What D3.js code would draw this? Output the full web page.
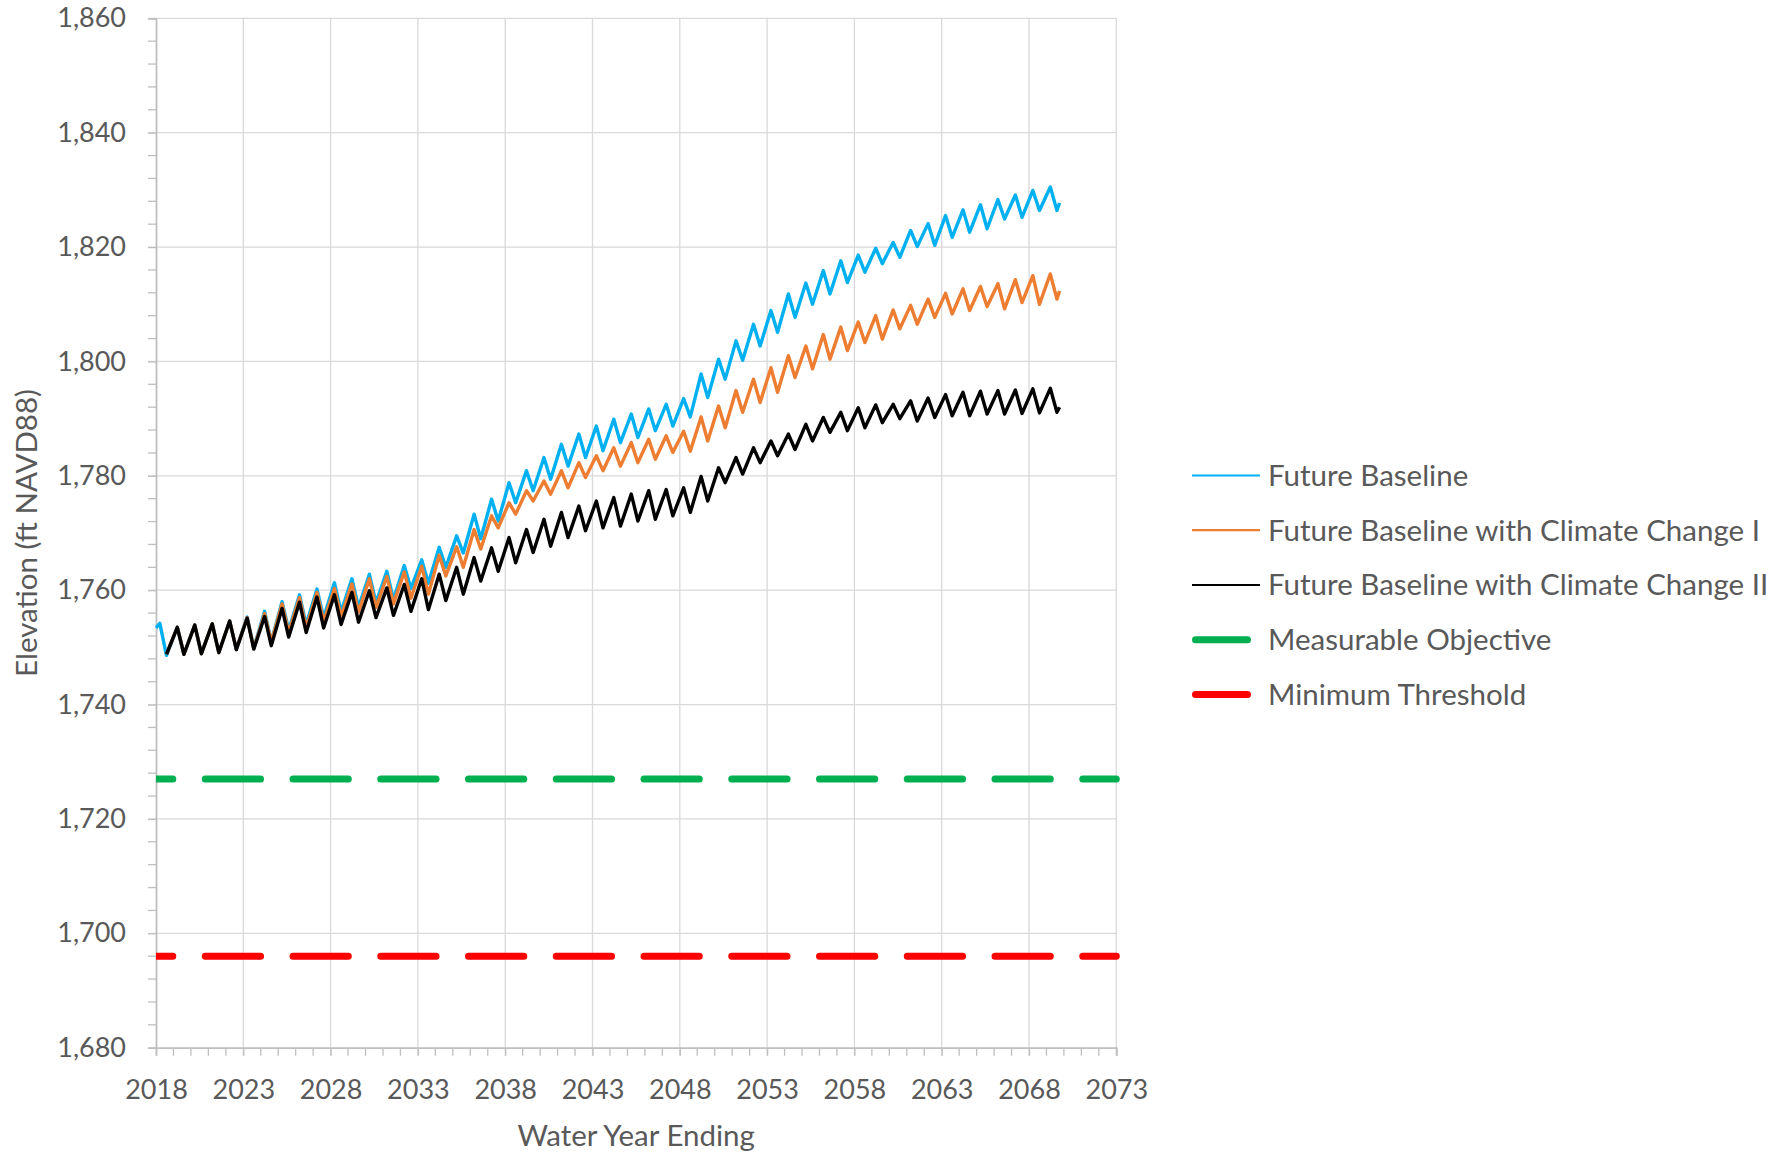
<!DOCTYPE html>
<html><head><meta charset="utf-8">
<script src="https://cdn.jsdelivr.net/npm/d3@7"></script>
<style>
body{margin:0;background:#fff}
text{font-family:Lato,"Open Sans",sans-serif;fill:#595959}
</style>
</head><body>
<svg id="chart" width="1788" height="1153"></svg>
<script>
// ---- data ----
const years = [2018,2019,2020,2021,2022,2023,2024,2025,2026,2027,2028,2029,2030,2031,2032,2033,2034,2035,2036,2037,2038,2039,2040,2041,2042,2043,2044,2045,2046,2047,2048,2049,2050,2051,2052,2053,2054,2055,2056,2057,2058,2059,2060,2061,2062,2063,2064,2065,2066,2067,2068,2069];

// Future Baseline: start value, annual peaks (spring) and annual lows (late summer)
const blueStart = 1753.4;
const bluePeaks = [1754.2,1753.5,1753.9,1754.1,1754.6,1755.3,1756.3,1758.0,1759.2,1760.2,1761.3,1762.0,1762.8,1763.3,1764.3,1765.3,1767.5,1769.5,1773.3,1775.9,1778.8,1780.9,1783.2,1785.5,1787.3,1788.7,1789.9,1790.8,1791.7,1792.5,1793.5,1797.8,1800.4,1803.6,1806.5,1808.9,1811.8,1813.7,1815.9,1817.6,1818.6,1819.8,1820.8,1822.9,1824.1,1825.5,1826.5,1827.4,1828.3,1829.1,1829.9,1830.5];
const blueLows = [1748.6,1748.8,1748.9,1749.1,1749.7,1749.9,1751.0,1753.0,1754.0,1755.2,1756.2,1757.0,1757.8,1758.4,1760.3,1761.2,1764.0,1766.5,1769.0,1772.1,1775.3,1777.4,1779.4,1781.7,1783.2,1784.4,1785.8,1786.7,1787.9,1788.7,1790.3,1793.7,1796.9,1800.2,1802.7,1805.1,1807.7,1810.0,1811.8,1813.8,1815.6,1817.1,1818.2,1820.1,1820.3,1821.7,1822.6,1823.2,1824.9,1825.2,1826.4,1826.4];
const blueEnd = 1827.7;

// Future Baseline with Climate Change I
const orangePeaks = [null,1753.5,1753.9,1754.1,1754.6,1755.2,1755.9,1757.6,1758.7,1759.6,1760.3,1761.1,1762.0,1762.4,1763.2,1764.2,1766.1,1767.6,1770.6,1773.0,1775.3,1777.4,1779.1,1780.9,1782.3,1783.5,1784.9,1785.8,1786.4,1787.0,1787.8,1790.3,1792.2,1794.9,1796.9,1798.9,1801.0,1802.7,1804.7,1806.0,1806.9,1808.0,1809.0,1809.8,1810.9,1811.9,1812.7,1813.1,1813.6,1814.3,1815.0,1815.3];
const orangeLows = [1748.8,1748.8,1748.9,1749.1,1749.7,1749.8,1750.9,1752.6,1753.4,1754.5,1755.4,1756.2,1757.0,1757.6,1758.6,1759.3,1762.5,1764.0,1767.2,1770.9,1773.3,1775.6,1776.8,1777.9,1779.7,1780.9,1781.7,1782.3,1782.9,1784.1,1784.3,1786.1,1788.4,1791.1,1792.8,1794.6,1797.2,1798.7,1800.4,1801.9,1803.3,1803.9,1805.7,1806.5,1807.7,1808.3,1808.9,1809.6,1809.2,1810.3,1810.0,1810.9];
const orangeEnd = 1812.3;

// Future Baseline with Climate Change II
const blackPeaks = [null,1753.5,1753.9,1754.1,1754.6,1755.1,1755.4,1756.8,1757.9,1758.8,1759.2,1759.6,1759.9,1760.4,1761.0,1762.0,1762.8,1764.0,1765.7,1767.4,1769.2,1770.6,1772.4,1773.6,1774.7,1775.6,1776.2,1776.8,1777.4,1777.6,1777.9,1779.9,1781.4,1783.2,1784.9,1786.1,1787.3,1789.0,1790.2,1791.1,1791.9,1792.4,1792.5,1793.1,1793.6,1794.2,1794.6,1794.8,1794.9,1795.0,1795.2,1795.3];
const blackLows = [1748.8,1748.8,1748.9,1749.1,1749.6,1749.7,1750.3,1751.8,1752.6,1753.4,1754.0,1754.4,1755.2,1755.6,1756.3,1756.6,1758.2,1759.3,1761.6,1763.3,1764.8,1766.6,1767.7,1769.2,1770.4,1770.9,1771.2,1772.1,1772.4,1773.0,1773.6,1775.6,1778.8,1780.3,1782.3,1783.5,1784.6,1786.1,1787.6,1787.9,1788.4,1789.3,1790.0,1789.6,1790.2,1790.5,1790.5,1790.8,1790.8,1790.9,1791.0,1791.1];
const blackEnd = 1792.0;

const measurableObjective = 1727;
const minimumThreshold = 1696;

const xTicks = [2018,2023,2028,2033,2038,2043,2048,2053,2058,2063,2068,2073];
const yTicks = [1680,1700,1720,1740,1760,1780,1800,1820,1840,1860];
const legendLabels = ["Future Baseline","Future Baseline with Climate Change I","Future Baseline with Climate Change II","Measurable Objective","Minimum Threshold"];
const colors = ["#00B0F0","#ED7D31","#000000","#00B050","#FF0000"];

// ---- layout ----
const svg = d3.select("#chart");
const L = 156, R = 1116.3, T = 18.3, B = 1047.7;
const x = d3.scaleLinear().domain([2018, 2073]).range([L, R]);
const y = d3.scaleLinear().domain([1680, 1860]).range([B, T]);
const PEAK = 0.22, LOW = 0.6, END = 0.75, TICK = 8;
const FS_TICK = 27, FS_TEXT = 29.5;

// gridlines
const grid = svg.append("g").attr("stroke", "#d9d9d9").attr("stroke-width", 1.3);
yTicks.filter(v => v !== 1680).forEach(v => {
  grid.append("line").attr("x1", L - TICK).attr("x2", R).attr("y1", y(v)).attr("y2", y(v));
});
xTicks.filter(v => v !== 2018).forEach(v => {
  grid.append("line").attr("x1", x(v)).attr("x2", x(v)).attr("y1", T).attr("y2", B + TICK);
});

// minor ticks
const minor = svg.append("g").attr("stroke", "#bfbfbf").attr("stroke-width", 1.3);
d3.range(1680, 1861, 4).filter(v => v % 20 !== 0).forEach(v => {
  minor.append("line").attr("x1", L - TICK).attr("x2", L).attr("y1", y(v)).attr("y2", y(v));
});
d3.range(2018, 2074, 1).filter(v => (v - 2018) % 5 !== 0).forEach(v => {
  minor.append("line").attr("x1", x(v)).attr("x2", x(v)).attr("y1", B).attr("y2", B + TICK);
});

// axes (d3 axis generators, styled like Excel)
const yAxis = svg.append("g").attr("transform", `translate(${L},0)`)
  .call(d3.axisLeft(y).tickValues(yTicks).tickSize(TICK).tickPadding(22).tickFormat(d3.format(",")));
const xAxis = svg.append("g").attr("transform", `translate(0,${B})`)
  .call(d3.axisBottom(x).tickValues(xTicks).tickSize(TICK).tickPadding(24).tickFormat(d3.format("d")));
[yAxis, xAxis].forEach(g => {
  g.select(".domain").attr("stroke", "#bfbfbf").attr("stroke-width", 1.8);
  g.selectAll(".tick line").attr("stroke", "#bfbfbf").attr("stroke-width", 1.3);
  g.selectAll("text").attr("font-size", FS_TICK).attr("fill", "#595959")
    .attr("font-family", "Lato, 'Open Sans', sans-serif");
});

// reference lines (dashed)
svg.append("clipPath").attr("id", "clipL").append("rect")
  .attr("x", L).attr("y", 0).attr("width", 1000).attr("height", 1153);
[[measurableObjective, colors[3]], [minimumThreshold, colors[4]]].forEach(([v, c]) => {
  svg.append("line").attr("clip-path", "url(#clipL)")
    .attr("x1", x(2018)).attr("x2", x(2073)).attr("y1", y(v)).attr("y2", y(v))
    .attr("stroke", c).attr("stroke-width", 7).attr("stroke-linecap", "round")
    .attr("stroke-dasharray", "55.3 32.45").attr("stroke-dashoffset", 38.5);
});

// series
function buildSeries(start, peaks, lows, end) {
  const pts = [];
  if (start != null) pts.push([years[0], start]);
  years.forEach((yr, i) => {
    if (peaks[i] != null) pts.push([yr + PEAK, peaks[i]]);
    pts.push([yr + LOW, lows[i]]);
  });
  pts.push([years[years.length - 1] + END, end]);
  return pts;
}
const series = [
  buildSeries(blueStart, bluePeaks, blueLows, blueEnd),
  buildSeries(null, orangePeaks, orangeLows, orangeEnd),
  buildSeries(null, blackPeaks, blackLows, blackEnd)
];
const line = d3.line().x(d => x(d[0])).y(d => y(d[1]));
series.forEach((pts, i) => {
  svg.append("path").datum(pts).attr("d", line).attr("fill", "none")
    .attr("stroke", colors[i]).attr("stroke-width", 3.4).attr("stroke-linejoin", "round");
});

// axis titles
svg.append("text").attr("transform", `translate(27,${(T + B) / 2}) rotate(-90)`)
  .attr("text-anchor", "middle").attr("dy", "0.35em").attr("font-size", FS_TEXT).text("Elevation (ft NAVD88)");
svg.append("text").attr("x", (L + R) / 2).attr("y", 1136).attr("text-anchor", "middle")
  .attr("dy", "0.35em").attr("font-size", FS_TEXT).text("Water Year Ending");

// legend
const legY = [475.5, 530.2, 585, 639.7, 694.4];
legendLabels.forEach((lab, i) => {
  const g = svg.append("g");
  if (i < 3) {
    g.append("line").attr("x1", 1192).attr("x2", 1260).attr("y1", legY[i]).attr("y2", legY[i])
      .attr("stroke", colors[i]).attr("stroke-width", 2.2);
  } else {
    g.append("line").attr("x1", 1195.5).attr("x2", 1247.5).attr("y1", legY[i]).attr("y2", legY[i])
      .attr("stroke", colors[i]).attr("stroke-width", 7).attr("stroke-linecap", "round");
  }
  g.append("text").attr("x", 1268).attr("y", legY[i]).attr("dy", "0.35em")
    .attr("font-size", FS_TEXT).text(lab);
});
</script>
</body></html>
